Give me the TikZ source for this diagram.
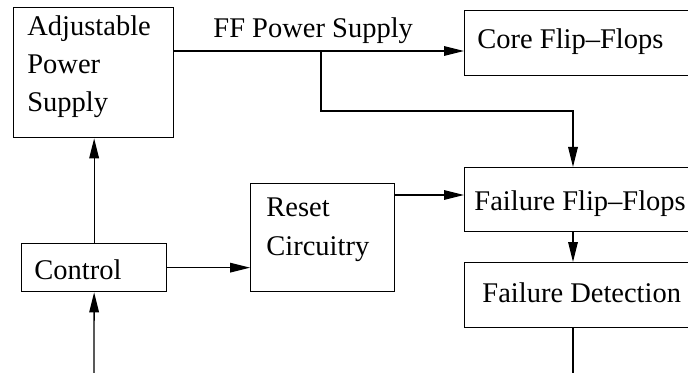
\documentclass[tikz,border=0pt]{standalone}
\usepackage{fontspec}
\setmainfont{Liberation Serif}
\usetikzlibrary{arrows.meta}
\tikzset{
  box/.style={draw, line width=0.65pt, rectangle, inner sep=0pt, anchor=north west},
  txt/.style={inner sep=0pt, anchor=base west, align=left, font=\fontsize{14.25pt}{19pt}\selectfont},
  conn/.style={line width=0.65pt},
  arr/.style={conn, -{Triangle[length=10pt,width=4.8pt]}}
}
\begin{document}
\begin{tikzpicture}[x=0.5pt,y=-0.5pt]
\useasboundingbox (0,0) rectangle (688,373);
\clip (0,0) rectangle (688,373);
% boxes
\node[box, minimum width=80pt, minimum height=65pt] (aps) at (13,7) {};
\node[box, minimum width=118pt, minimum height=32.5pt] (core) at (464,10) {};
\node[box, minimum width=72.5pt, minimum height=24pt] (ctrl) at (21,243) {};
\node[box, minimum width=72pt, minimum height=54pt] (reset) at (250,183) {};
\node[box, minimum width=118pt, minimum height=32pt] (fff) at (464,167) {};
\node[box, minimum width=118pt, minimum height=32.5pt] (fd) at (464,262) {};
% texts (base anchor = baseline of the last line)
\node[txt] (apst) at (27,112) {Adjustable\\Power\\Supply};
\node[txt] (coret) at (477,49) {Core Flip--Flops};
\node[txt] (ctrlt) at (34,279) {Control};
\node[txt] (resett) at (266,255) {Reset\\Circuitry};
\node[txt] (ffft) at (474,211) {Failure Flip--Flops};
\node[txt] (fdt) at (482,302) {Failure Detection};
\node[txt] (ffps) at (213,38) {FF Power Supply};
% junctions
\coordinate (j1) at (321,51);
\coordinate (j2) at (573,111);
\coordinate (r1) at (394,195);
\coordinate (in) at (94,373);
\coordinate (out) at (573,373);
% connectors
\draw[arr] (aps.east |- j1) -- (core.west |- j1);
\draw[arr] (j1) |- (j2) -- (j2 |- fff.north);
\draw[arr] (j2 |- fff.south) -- (j2 |- fd.north);
\draw[conn] (j2 |- fd.south) -- (out);
\draw[arr] (ctrl.north) -- (ctrl.north |- aps.south);
\draw[arr] (in) -- (ctrl.south);
\draw[arr] (ctrl.east) -- (reset.west |- ctrl.east);
\draw[arr] (reset.east |- r1) -- (fff.west |- r1);
\end{tikzpicture}
\end{document}
